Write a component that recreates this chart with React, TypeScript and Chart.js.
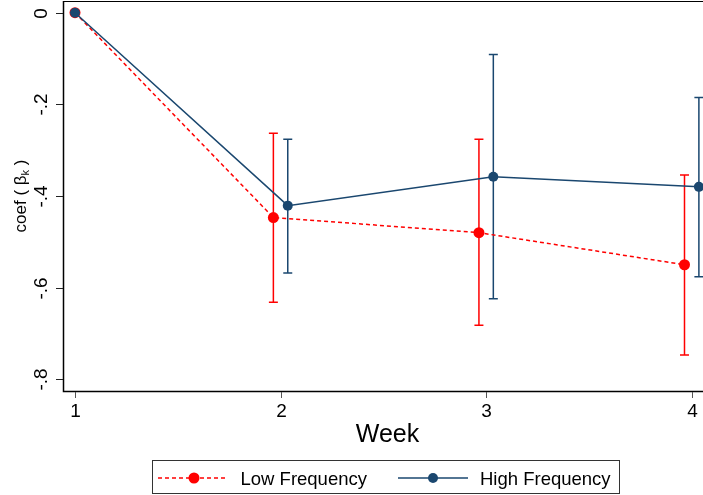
import React, { useEffect, useRef } from "react";
import { Chart, registerables } from "chart.js";

Chart.register(...registerables);

const weeks = [1, 2, 3, 4];
const yTicks = [0, -0.2, -0.4, -0.6, -0.8];
const yTickLabels = ["0", "-.2", "-.4", "-.6", "-.8"];

const lowX = [1, 1.965, 2.965, 3.965];
const lowCoef = [0, -0.447, -0.48, -0.55];
const lowLo = [0, -0.632, -0.682, -0.747];
const lowHi = [0, -0.263, -0.276, -0.354];

const highX = [1, 2.035, 3.035, 4.035];
const highCoef = [0, -0.421, -0.358, -0.38];
const highLo = [0, -0.568, -0.624, -0.576];
const highHi = [0, -0.276, -0.091, -0.185];

const RED = "#ff0000";
const BLUE = "#1a476f";
const FONT = '"Liberation Sans", Arial, sans-serif';

const errorBars = [
  { x: lowX, lo: lowLo, hi: lowHi, color: RED },
  { x: highX, lo: highLo, hi: highHi, color: BLUE },
];

const decorPlugin = {
  id: "decor",
  beforeDatasetsDraw(chart: any) {
    const ctx = chart.ctx;
    const xs = chart.scales.x;
    const ys = chart.scales.y;
    ctx.save();
    ctx.lineWidth = 1.5;
    for (const eb of errorBars) {
      ctx.strokeStyle = eb.color;
      eb.x.forEach((xv: number, i: number) => {
        if (eb.lo[i] === eb.hi[i]) return;
        const px = xs.getPixelForValue(xv);
        const p1 = ys.getPixelForValue(eb.hi[i]);
        const p2 = ys.getPixelForValue(eb.lo[i]);
        ctx.beginPath();
        ctx.moveTo(px, p1);
        ctx.lineTo(px, p2);
        ctx.moveTo(px - 4.5, p1);
        ctx.lineTo(px + 4.5, p1);
        ctx.moveTo(px - 4.5, p2);
        ctx.lineTo(px + 4.5, p2);
        ctx.stroke();
      });
    }
    ctx.restore();
  },
  afterDraw(chart: any) {
    const ctx = chart.ctx;
    const xs = chart.scales.x;
    const ys = chart.scales.y;
    const area = chart.chartArea;
    ctx.save();
    // axes
    ctx.strokeStyle = "#000";
    ctx.lineWidth = 1.5;
    ctx.beginPath();
    ctx.moveTo(area.left + 0.5, area.top);
    ctx.lineTo(area.left + 0.5, area.bottom + 0.5);
    ctx.lineTo(area.right, area.bottom + 0.5);
    ctx.stroke();
    ctx.lineWidth = 1;
    ctx.beginPath();
    ctx.moveTo(area.left, area.top + 0.5);
    ctx.lineTo(area.right, area.top + 0.5);
    ctx.stroke();

    // y ticks
    ctx.strokeStyle = "#222";
    ctx.lineWidth = 1;
    ctx.fillStyle = "#000";
    ctx.font = `19px ${FONT}`;
    yTicks.forEach((v, i) => {
      const py = Math.round(ys.getPixelForValue(v)) + 0.5;
      ctx.beginPath();
      ctx.moveTo(area.left - 7, py);
      ctx.lineTo(area.left, py);
      ctx.stroke();
      ctx.save();
      ctx.translate(47, py);
      ctx.rotate(-Math.PI / 2);
      ctx.textAlign = "center";
      ctx.textBaseline = "alphabetic";
      ctx.fillText(yTickLabels[i], 0, 0);
      ctx.restore();
    });

    // x ticks
    ctx.strokeStyle = "#555";
    weeks.forEach((w) => {
      const px = Math.round(xs.getPixelForValue(w)) + 0.5;
      ctx.beginPath();
      ctx.moveTo(px, area.bottom + 1);
      ctx.lineTo(px, area.bottom + 7);
      ctx.stroke();
      ctx.textAlign = "center";
      ctx.textBaseline = "alphabetic";
      ctx.fillText(String(w), px, 417);
    });

    // x title
    ctx.font = `25px ${FONT}`;
    ctx.textAlign = "center";
    ctx.fillText("Week", 387.5, 442);

    // y title
    ctx.save();
    ctx.translate(26, (area.top + area.bottom) / 2);
    ctx.rotate(-Math.PI / 2);
    ctx.textAlign = "left";
    const mainFont = `17px ${FONT}`;
    const subFont = `11px ${FONT}`;
    const parts = [
      { t: "coef ( β", f: mainFont, dy: 0 },
      { t: "k", f: subFont, dy: 3 },
      { t: " )", f: mainFont, dy: 0 },
    ];
    let total = 0;
    parts.forEach((p) => {
      ctx.font = p.f;
      total += ctx.measureText(p.t).width;
    });
    let cx = -total / 2;
    parts.forEach((p) => {
      ctx.font = p.f;
      ctx.fillText(p.t, cx, p.dy);
      cx += ctx.measureText(p.t).width;
    });
    ctx.restore();

    // legend
    ctx.strokeStyle = "#333";
    ctx.lineWidth = 1;
    ctx.strokeRect(152.5, 460.5, 467, 33);
    const ly = 478;
    ctx.lineWidth = 1.5;
    ctx.strokeStyle = RED;
    ctx.setLineDash([4, 3]);
    ctx.beginPath();
    ctx.moveTo(158, ly);
    ctx.lineTo(228, ly);
    ctx.stroke();
    ctx.setLineDash([]);
    ctx.fillStyle = RED;
    ctx.beginPath();
    ctx.arc(194, ly, 5.5, 0, Math.PI * 2);
    ctx.fill();
    ctx.strokeStyle = BLUE;
    ctx.beginPath();
    ctx.moveTo(398, ly);
    ctx.lineTo(468, ly);
    ctx.stroke();
    ctx.fillStyle = BLUE;
    ctx.beginPath();
    ctx.arc(433, ly, 5, 0, Math.PI * 2);
    ctx.fill();
    ctx.fillStyle = "#000";
    ctx.font = `18.5px ${FONT}`;
    ctx.textAlign = "left";
    ctx.fillText("Low Frequency", 240.5, 484.5);
    ctx.fillText("High Frequency", 480, 484.5);
    ctx.restore();
  },
};

export default function App() {
  const ref = useRef<HTMLCanvasElement | null>(null);
  useEffect(() => {
    if (!ref.current) return;
    const chart = new Chart(ref.current, {
      type: "line",
      data: {
        datasets: [
          {
            label: "High Frequency",
            data: highX.map((x, i) => ({ x, y: highCoef[i] })),
            borderColor: BLUE,
            backgroundColor: BLUE,
            borderWidth: 1.5,
            pointRadius: 5,
            pointBorderWidth: 0,
            pointBackgroundColor: BLUE,
            order: 0,
          },
          {
            label: "Low Frequency",
            data: lowX.map((x, i) => ({ x, y: lowCoef[i] })),
            borderColor: RED,
            backgroundColor: RED,
            borderWidth: 1.5,
            borderDash: [4, 3],
            pointRadius: 5.5,
            pointBorderWidth: 0,
            pointBackgroundColor: RED,
            order: 1,
          },
        ],
      },
      options: {
        animation: false,
        responsive: false,
        devicePixelRatio: 1,
        layout: { autoPadding: false, padding: { left: 63, top: 1, right: 0, bottom: 104 } },
        plugins: { legend: { display: false }, tooltip: { enabled: false } },
        scales: {
          x: { type: "linear", display: false, min: 0.9416, max: 4.055 },
          y: { type: "linear", display: false, min: -0.8255, max: 0.02553 },
        },
      },
      plugins: [decorPlugin],
    });
    return () => chart.destroy();
  }, []);
  return (
    <div style={{ position: "fixed", left: 0, top: 0, width: 703, height: 495, background: "#fff" }}>
      <canvas ref={ref} width={703} height={495} />
    </div>
  );
}
